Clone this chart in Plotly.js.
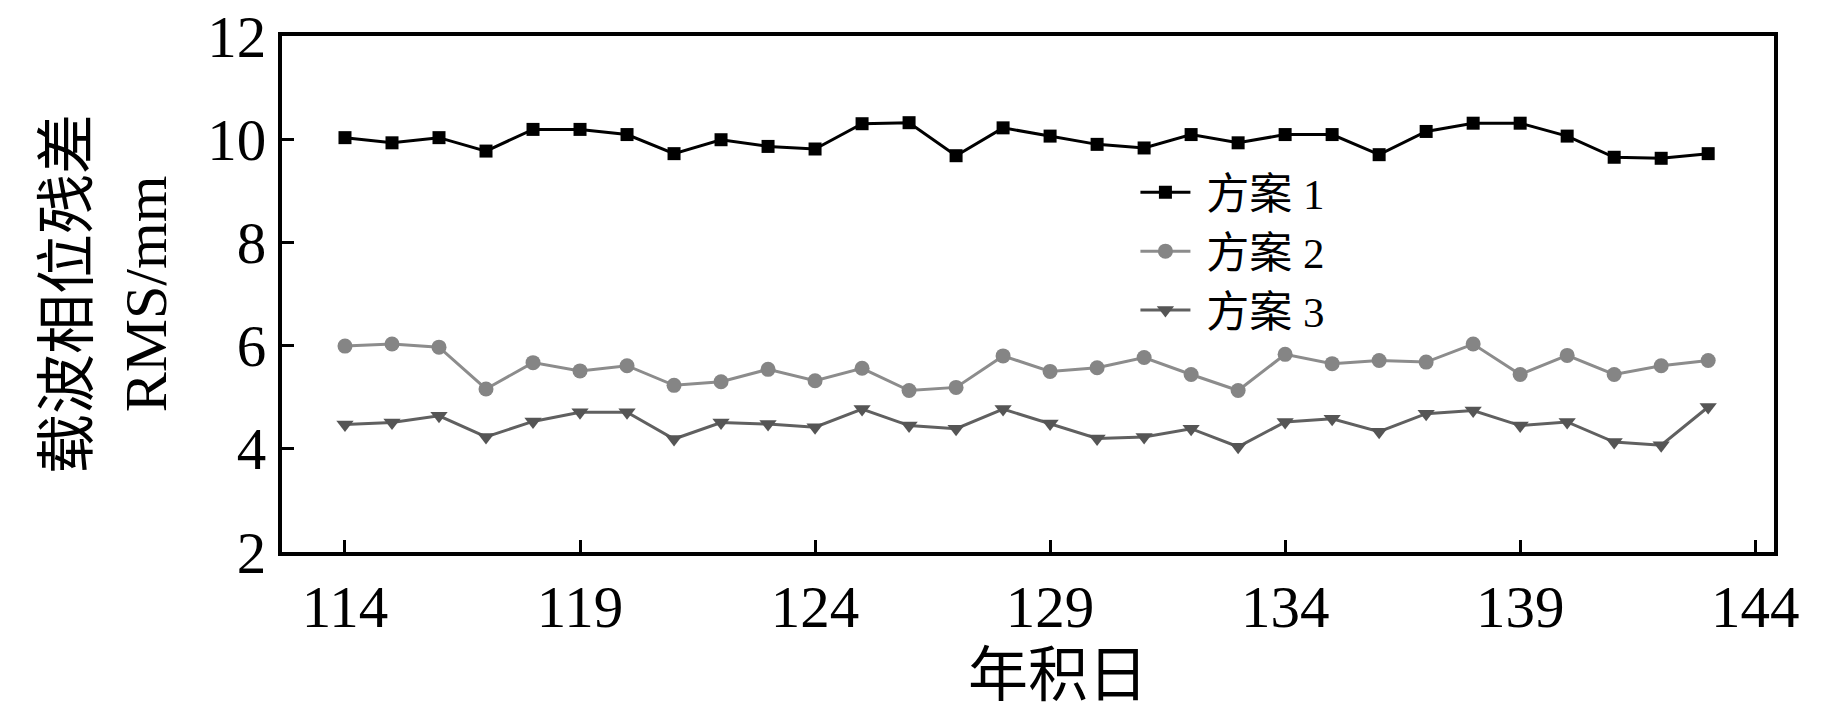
<!DOCTYPE html>
<html>
<head>
<meta charset="utf-8">
<script src="https://cdn.plot.ly/plotly-3.0.1.min.js"></script>
<style>
  html, body { margin: 0; padding: 0; background: #ffffff; }
  #chart { width: 1843px; height: 709px; }
</style>
</head>
<body>
<div id="chart"></div>
<script>
const days = [114, 115, 116, 117, 118, 119, 120, 121, 122, 123, 124, 125, 126, 127, 128,
              129, 130, 131, 132, 133, 134, 135, 136, 137, 138, 139, 140, 141, 142, 143];

const plan1 = [10.03, 9.93, 10.03, 9.77, 10.19, 10.19, 10.09, 9.72, 9.99, 9.86, 9.81, 10.30, 10.32, 9.68, 10.22,
               10.06, 9.90, 9.83, 10.09, 9.93, 10.09, 10.09, 9.70, 10.15, 10.31, 10.31, 10.06, 9.65, 9.63, 9.72];

const plan2 = [5.99, 6.03, 5.97, 5.16, 5.67, 5.51, 5.61, 5.23, 5.30, 5.54, 5.32, 5.56, 5.13, 5.19, 5.80,
               5.50, 5.57, 5.77, 5.44, 5.13, 5.83, 5.65, 5.71, 5.68, 6.03, 5.44, 5.81, 5.44, 5.61, 5.71];

const plan3 = [4.47, 4.51, 4.64, 4.23, 4.53, 4.71, 4.71, 4.19, 4.51, 4.48, 4.42, 4.77, 4.45, 4.39, 4.77,
               4.49, 4.20, 4.23, 4.39, 4.04, 4.52, 4.58, 4.33, 4.68, 4.74, 4.45, 4.52, 4.13, 4.07, 4.81];

const seriesNames = ["方案 1", "方案 2", "方案 3"];
const xTicks = [114, 119, 124, 129, 134, 139, 144];
const yTicks = [2, 4, 6, 8, 10, 12];

const baseFont = "Liberation Serif, Times New Roman, Noto Sans CJK SC, serif";

function makeTrace(name, values, style) {
  return {
    type: "scatter",
    mode: "lines+markers",
    name: "\u00a0" + name,
    x: days,
    y: values,
    line: { color: style.line, width: 3 },
    marker: { symbol: style.symbol, size: style.size, color: style.color }
  };
}

const traces = [
  makeTrace(seriesNames[0], plan1, { symbol: "square", size: 13, color: "#000000", line: "#000000" }),
  makeTrace(seriesNames[1], plan2, { symbol: "circle", size: 15, color: "#858585", line: "#8c8c8c" }),
  makeTrace(seriesNames[2], plan3, { symbol: "triangle-down", size: 15, color: "#555555", line: "#606060" })
];

const axisCommon = {
  showline: true,
  mirror: true,
  linecolor: "#000000",
  linewidth: 4,
  showgrid: false,
  zeroline: false,
  ticks: "inside",
  ticklen: 12,
  tickwidth: 3,
  tickcolor: "#000000",
  tickfont: { family: baseFont, size: 59, color: "#000000" }
};

const layout = {
  width: 1843,
  height: 709,
  margin: { l: 282, r: 69, t: 36, b: 157 },
  paper_bgcolor: "#ffffff",
  plot_bgcolor: "#ffffff",
  showlegend: true,
  xaxis: Object.assign({}, axisCommon, {
    range: [112.66, 144.4],
    tickvals: xTicks,
    ticktext: xTicks.map(String)
  }),
  yaxis: Object.assign({}, axisCommon, {
    range: [2, 12],
    tickvals: yTicks,
    ticktext: yTicks.map(String),
    title: { text: "载波相位残差<br>RMS/mm", font: { family: baseFont, size: 60, color: "#000000" }, standoff: 22 }
  }),
  annotations: [{
    text: "年积日",
    xref: "paper",
    yref: "paper",
    x: 0.52,
    y: -0.24,
    xanchor: "center",
    yanchor: "middle",
    showarrow: false,
    font: { family: baseFont, size: 60, color: "#000000" }
  }],
  legend: {
    x: 0.572,
    y: 0.764,
    xanchor: "left",
    yanchor: "top",
    bgcolor: "rgba(0,0,0,0)",
    itemwidth: 50,
    font: { family: baseFont, size: 43, color: "#000000" }
  }
};

Plotly.newPlot("chart", traces, layout, { staticPlot: true });
</script>
</body>
</html>
